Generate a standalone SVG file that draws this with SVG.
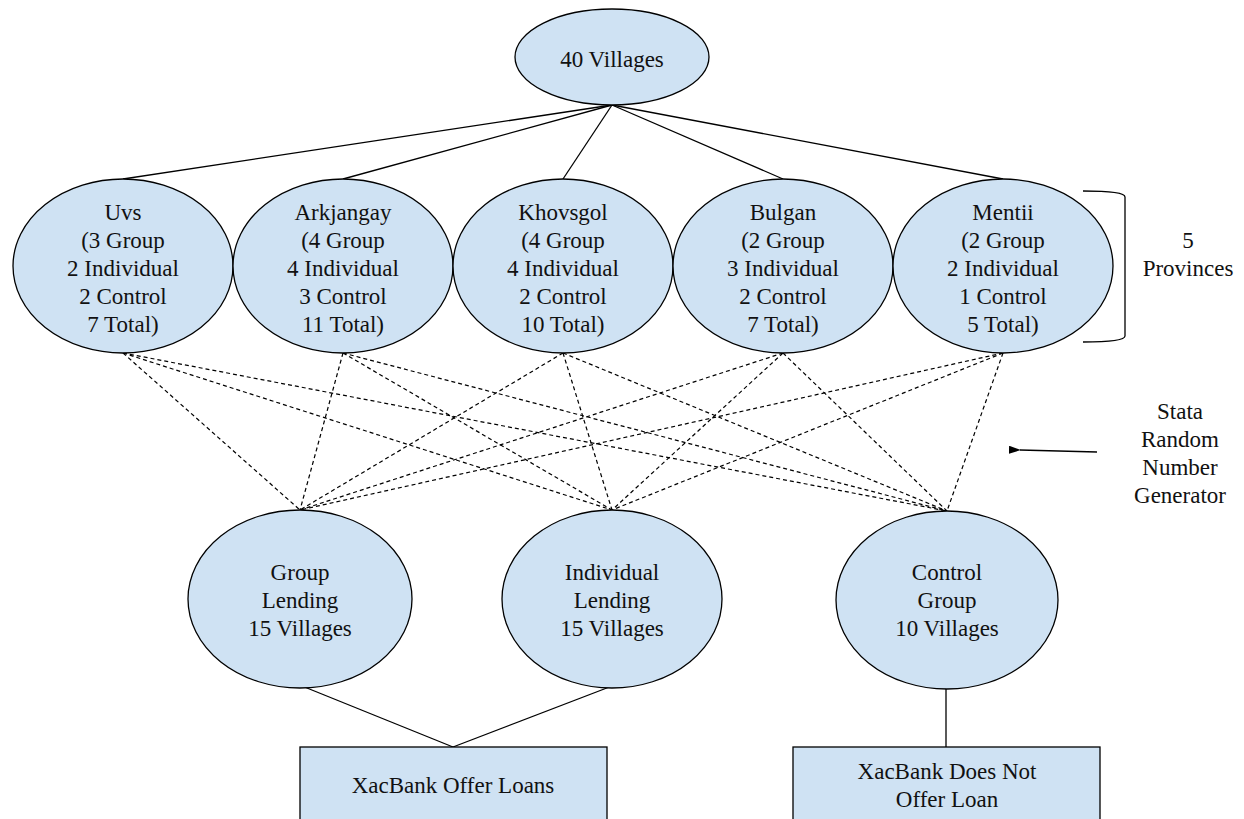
<svg xmlns="http://www.w3.org/2000/svg" width="1244" height="819" viewBox="0 0 1244 819">
  <style>
    .shape { fill: #cfe2f3; stroke: #000; stroke-width: 1.3; }
    .solid { fill: none; stroke: #000; stroke-width: 1.3; }
    .dash { fill: none; stroke: #000; stroke-width: 1.2; stroke-dasharray: 4 3; }
    .lbl { font-family: 'Liberation Serif', 'Times New Roman', serif; font-size: 23px; fill: #111; text-anchor: middle; }
  </style>
  <defs>
    <marker id="arrowhead" markerWidth="12" markerHeight="8" refX="1" refY="4" orient="auto" markerUnits="userSpaceOnUse">
      <path d="M12,0 L0,4 L12,8 Z" fill="#000"/>
    </marker>
  </defs>
  <rect width="1244" height="819" fill="#fff"/>

  <!-- connectors -->
  <g id="connectors">
    <!-- root to provinces -->
    <line class="solid" x1="612" y1="105" x2="123" y2="179"/>
    <line class="solid" x1="612" y1="105" x2="343" y2="179"/>
    <line class="solid" x1="612" y1="105" x2="563" y2="179"/>
    <line class="solid" x1="612" y1="105" x2="783" y2="179"/>
    <line class="solid" x1="612" y1="105" x2="1003" y2="179"/>
    <!-- random assignment: each province to each arm -->
    <line class="dash" x1="123" y1="353" x2="300" y2="510"/>
    <line class="dash" x1="123" y1="353" x2="612" y2="510"/>
    <line class="dash" x1="123" y1="353" x2="947" y2="511"/>
    <line class="dash" x1="343" y1="353" x2="300" y2="510"/>
    <line class="dash" x1="343" y1="353" x2="612" y2="510"/>
    <line class="dash" x1="343" y1="353" x2="947" y2="511"/>
    <line class="dash" x1="563" y1="353" x2="300" y2="510"/>
    <line class="dash" x1="563" y1="353" x2="612" y2="510"/>
    <line class="dash" x1="563" y1="353" x2="947" y2="511"/>
    <line class="dash" x1="783" y1="353" x2="300" y2="510"/>
    <line class="dash" x1="783" y1="353" x2="612" y2="510"/>
    <line class="dash" x1="783" y1="353" x2="947" y2="511"/>
    <line class="dash" x1="1003" y1="353" x2="300" y2="510"/>
    <line class="dash" x1="1003" y1="353" x2="612" y2="510"/>
    <line class="dash" x1="1003" y1="353" x2="947" y2="511"/>
    <!-- arms to outcomes -->
    <line class="solid" x1="302" y1="686" x2="453" y2="747"/>
    <line class="solid" x1="612" y1="686" x2="453" y2="747"/>
    <line class="solid" x1="946" y1="688" x2="946" y2="747"/>
    <!-- annotation arrow -->
    <line class="solid" x1="1097" y1="452" x2="1020" y2="450" marker-end="url(#arrowhead)"/>
  </g>

  <g id="node-root">
    <ellipse class="shape" cx="612" cy="57" rx="97" ry="48"/>
    <text class="lbl" x="612" y="67">40 Villages</text>
  </g>

  <g id="node-uvs">
    <ellipse class="shape" cx="123" cy="266" rx="110" ry="87"/>
    <text class="lbl" x="123" y="220">Uvs</text>
    <text class="lbl" x="123" y="248">(3 Group</text>
    <text class="lbl" x="123" y="276">2 Individual</text>
    <text class="lbl" x="123" y="304">2 Control</text>
    <text class="lbl" x="123" y="332">7 Total)</text>
  </g>

  <g id="node-arkjangay">
    <ellipse class="shape" cx="343" cy="266" rx="110" ry="87"/>
    <text class="lbl" x="343" y="220">Arkjangay</text>
    <text class="lbl" x="343" y="248">(4 Group</text>
    <text class="lbl" x="343" y="276">4 Individual</text>
    <text class="lbl" x="343" y="304">3 Control</text>
    <text class="lbl" x="343" y="332">11 Total)</text>
  </g>

  <g id="node-khovsgol">
    <ellipse class="shape" cx="563" cy="266" rx="110" ry="87"/>
    <text class="lbl" x="563" y="220">Khovsgol</text>
    <text class="lbl" x="563" y="248">(4 Group</text>
    <text class="lbl" x="563" y="276">4 Individual</text>
    <text class="lbl" x="563" y="304">2 Control</text>
    <text class="lbl" x="563" y="332">10 Total)</text>
  </g>

  <g id="node-bulgan">
    <ellipse class="shape" cx="783" cy="266" rx="110" ry="87"/>
    <text class="lbl" x="783" y="220">Bulgan</text>
    <text class="lbl" x="783" y="248">(2 Group</text>
    <text class="lbl" x="783" y="276">3 Individual</text>
    <text class="lbl" x="783" y="304">2 Control</text>
    <text class="lbl" x="783" y="332">7 Total)</text>
  </g>

  <g id="node-mentii">
    <ellipse class="shape" cx="1003" cy="266" rx="110" ry="87"/>
    <text class="lbl" x="1003" y="220">Mentii</text>
    <text class="lbl" x="1003" y="248">(2 Group</text>
    <text class="lbl" x="1003" y="276">2 Individual</text>
    <text class="lbl" x="1003" y="304">1 Control</text>
    <text class="lbl" x="1003" y="332">5 Total)</text>
  </g>

  <g id="provinces-bracket">
    <path class="solid" d="M1083,191 Q1125,191 1125,197 L1125,336 Q1125,342 1083,342"/>
    <text class="lbl" x="1188" y="248">5</text>
    <text class="lbl" x="1188" y="276">Provinces</text>
  </g>

  <g id="rng-label">
    <text class="lbl" x="1180" y="419">Stata</text>
    <text class="lbl" x="1180" y="447">Random</text>
    <text class="lbl" x="1180" y="475">Number</text>
    <text class="lbl" x="1180" y="503">Generator</text>
  </g>

  <g id="node-group-lending">
    <ellipse class="shape" cx="300" cy="599" rx="112" ry="89"/>
    <text class="lbl" x="300" y="580">Group</text>
    <text class="lbl" x="300" y="608">Lending</text>
    <text class="lbl" x="300" y="636">15 Villages</text>
  </g>

  <g id="node-individual-lending">
    <ellipse class="shape" cx="612" cy="599" rx="110" ry="89"/>
    <text class="lbl" x="612" y="580">Individual</text>
    <text class="lbl" x="612" y="608">Lending</text>
    <text class="lbl" x="612" y="636">15 Villages</text>
  </g>

  <g id="node-control-group">
    <ellipse class="shape" cx="947" cy="600" rx="111" ry="89"/>
    <text class="lbl" x="947" y="580">Control</text>
    <text class="lbl" x="947" y="608">Group</text>
    <text class="lbl" x="947" y="636">10 Villages</text>
  </g>

  <g id="node-offer-loans">
    <rect class="shape" x="300" y="747" width="307" height="90"/>
    <text class="lbl" x="453" y="793">XacBank Offer Loans</text>
  </g>

  <g id="node-no-loan">
    <rect class="shape" x="793" y="747" width="307" height="90"/>
    <text class="lbl" x="947" y="779">XacBank Does Not</text>
    <text class="lbl" x="947" y="807">Offer Loan</text>
  </g>
</svg>
